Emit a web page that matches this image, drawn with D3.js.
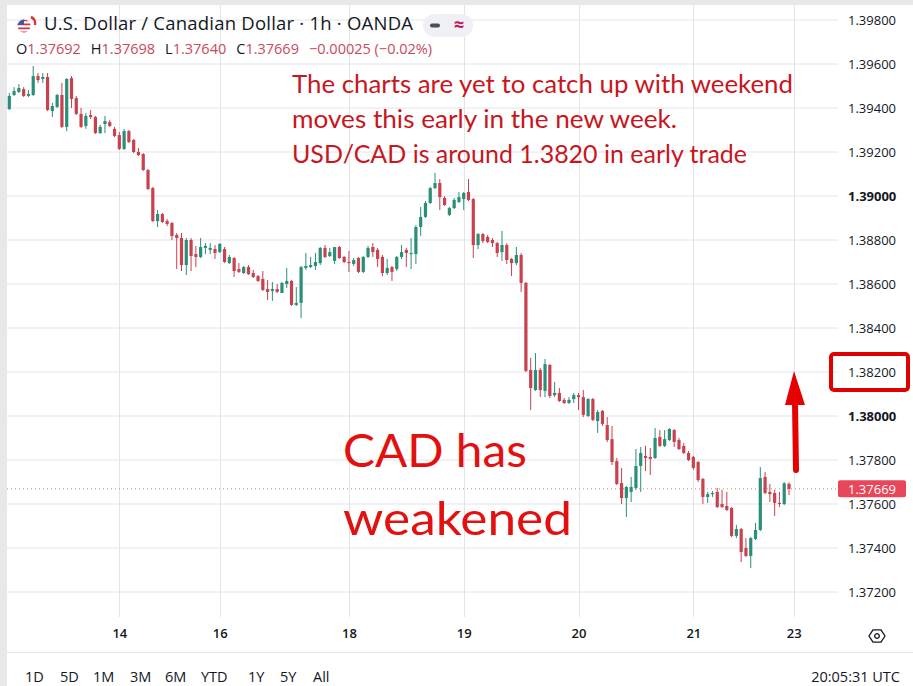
<!DOCTYPE html>
<html>
<head>
<meta charset="utf-8">
<script src="https://cdn.jsdelivr.net/npm/d3@7"></script>
<style>
  body { margin: 0; background: #fff; }
  svg { display: block; }
</style>
</head>
<body>
<div id="chart"></div>
<script>
// USD/CAD 1h candles (oldest first)
var opens = [1.39395,1.39459,1.39473,1.39486,1.39455,1.39459,1.39545,1.39532,1.39541,1.39386,
  1.39405,1.39459,1.39314,1.39536,1.39445,1.39373,1.39318,1.39368,1.39359,1.39286,
  1.39327,1.39336,1.39305,1.39277,1.39214,1.39295,1.39255,1.39200,1.39191,1.39118,
  1.39036,1.38886,1.38918,1.38886,1.38877,1.38823,1.38809,1.38686,1.38800,1.38736,
  1.38723,1.38764,1.38755,1.38759,1.38745,1.38759,1.38695,1.38718,1.38668,1.38650,
  1.38677,1.38650,1.38636,1.38623,1.38577,1.38568,1.38577,1.38559,1.38600,1.38614,
  1.38505,1.38514,1.38673,1.38677,1.38682,1.38695,1.38764,1.38727,1.38705,1.38768,
  1.38723,1.38700,1.38691,1.38718,1.38655,1.38723,1.38768,1.38755,1.38723,1.38650,
  1.38677,1.38668,1.38723,1.38755,1.38736,1.38736,1.38859,1.38905,1.38968,1.39036,
  1.39059,1.38991,1.38914,1.38945,1.38973,1.38986,1.39018,1.38986,1.38777,1.38827,
  1.38814,1.38800,1.38786,1.38745,1.38777,1.38714,1.38695,1.38732,1.38605,1.38209,
  1.38118,1.38209,1.38114,1.38232,1.38095,1.38105,1.38073,1.38059,1.38077,1.38095,
  1.38086,1.38000,1.38077,1.37977,1.38023,1.37959,1.37895,1.37795,1.37695,1.37627,
  1.37655,1.37673,1.37773,1.37818,1.37814,1.37809,1.37905,1.37864,1.37891,1.37936,
  1.37891,1.37864,1.37832,1.37814,1.37791,1.37714,1.37632,1.37645,1.37655,1.37600,
  1.37591,1.37582,1.37455,1.37486,1.37400,1.37364,1.37441,1.37482,1.37723,1.37655,
  1.37650,1.37605,1.37600,1.37692];
var highs = [1.39468,1.39495,1.39509,1.39495,1.39482,1.39591,1.39559,1.39559,1.39559,1.39423,
  1.39464,1.39514,1.39536,1.39545,1.39455,1.39400,1.39377,1.39391,1.39364,1.39323,
  1.39364,1.39345,1.39314,1.39291,1.39305,1.39300,1.39259,1.39218,1.39195,1.39123,
  1.39041,1.38936,1.38923,1.38895,1.38882,1.38832,1.38832,1.38809,1.38809,1.38773,
  1.38809,1.38786,1.38786,1.38777,1.38786,1.38768,1.38732,1.38723,1.38695,1.38682,
  1.38686,1.38664,1.38641,1.38659,1.38618,1.38609,1.38600,1.38609,1.38673,1.38618,
  1.38586,1.38682,1.38741,1.38723,1.38741,1.38768,1.38777,1.38764,1.38768,1.38773,
  1.38727,1.38750,1.38718,1.38723,1.38727,1.38773,1.38786,1.38764,1.38732,1.38714,
  1.38682,1.38727,1.38777,1.38764,1.38809,1.38868,1.38950,1.38977,1.39041,1.39105,
  1.39077,1.39000,1.38950,1.38991,1.39018,1.39018,1.39077,1.38991,1.38832,1.38832,
  1.38823,1.38809,1.38791,1.38841,1.38786,1.38718,1.38768,1.38741,1.38609,1.38264,
  1.38286,1.38218,1.38259,1.38236,1.38155,1.38127,1.38082,1.38086,1.38105,1.38105,
  1.38118,1.38082,1.38082,1.38027,1.38027,1.37995,1.37955,1.37809,1.37764,1.37682,
  1.37723,1.37850,1.37859,1.37864,1.37855,1.37945,1.37936,1.37936,1.37945,1.37941,
  1.37900,1.37877,1.37841,1.37818,1.37795,1.37718,1.37655,1.37659,1.37673,1.37664,
  1.37655,1.37586,1.37505,1.37491,1.37445,1.37450,1.37514,1.37768,1.37745,1.37691,
  1.37664,1.37655,1.37700,1.37698];
var lows = [1.39391,1.39455,1.39468,1.39450,1.39450,1.39455,1.39514,1.39514,1.39386,1.39359,
  1.39400,1.39309,1.39295,1.39400,1.39368,1.39309,1.39305,1.39350,1.39282,1.39282,
  1.39286,1.39314,1.39268,1.39209,1.39209,1.39241,1.39195,1.39182,1.39114,1.39027,
  1.38882,1.38859,1.38877,1.38864,1.38800,1.38668,1.38659,1.38641,1.38659,1.38677,
  1.38718,1.38736,1.38736,1.38714,1.38741,1.38695,1.38691,1.38632,1.38650,1.38645,
  1.38641,1.38627,1.38609,1.38568,1.38527,1.38523,1.38559,1.38559,1.38582,1.38500,
  1.38500,1.38445,1.38664,1.38673,1.38664,1.38686,1.38718,1.38723,1.38691,1.38714,
  1.38695,1.38655,1.38682,1.38650,1.38650,1.38718,1.38723,1.38677,1.38636,1.38641,
  1.38614,1.38659,1.38714,1.38677,1.38668,1.38691,1.38818,1.38900,1.38964,1.39032,
  1.38936,1.38955,1.38909,1.38941,1.38968,1.38936,1.38977,1.38718,1.38759,1.38786,
  1.38786,1.38768,1.38723,1.38705,1.38691,1.38636,1.38686,1.38564,1.38200,1.38027,
  1.38114,1.38086,1.38086,1.38082,1.38086,1.38064,1.38055,1.38055,1.38059,1.38027,
  1.37995,1.37995,1.37977,1.37923,1.37955,1.37882,1.37777,1.37686,1.37600,1.37541,
  1.37609,1.37664,1.37655,1.37750,1.37732,1.37805,1.37859,1.37859,1.37886,1.37859,
  1.37845,1.37827,1.37795,1.37755,1.37700,1.37600,1.37605,1.37632,1.37582,1.37582,
  1.37568,1.37450,1.37445,1.37336,1.37359,1.37309,1.37436,1.37477,1.37645,1.37609,
  1.37545,1.37586,1.37595,1.37640];
var closes = [1.39455,1.39477,1.39491,1.39455,1.39464,1.39545,1.39527,1.39541,1.39391,1.39409,
  1.39459,1.39314,1.39532,1.39441,1.39373,1.39314,1.39364,1.39359,1.39286,1.39314,
  1.39341,1.39318,1.39273,1.39214,1.39295,1.39245,1.39200,1.39186,1.39118,1.39032,
  1.38886,1.38918,1.38882,1.38873,1.38818,1.38809,1.38686,1.38800,1.38727,1.38723,
  1.38768,1.38773,1.38764,1.38741,1.38782,1.38700,1.38723,1.38659,1.38655,1.38677,
  1.38645,1.38632,1.38614,1.38573,1.38564,1.38577,1.38564,1.38605,1.38614,1.38505,
  1.38514,1.38677,1.38682,1.38686,1.38700,1.38764,1.38723,1.38745,1.38768,1.38718,
  1.38700,1.38695,1.38709,1.38655,1.38723,1.38764,1.38745,1.38714,1.38650,1.38673,
  1.38655,1.38723,1.38745,1.38741,1.38741,1.38859,1.38905,1.38968,1.39036,1.39059,
  1.38995,1.38959,1.38945,1.38982,1.38995,1.39014,1.38982,1.38777,1.38827,1.38795,
  1.38791,1.38786,1.38741,1.38777,1.38709,1.38695,1.38732,1.38605,1.38205,1.38127,
  1.38209,1.38118,1.38236,1.38091,1.38105,1.38068,1.38059,1.38073,1.38095,1.38086,
  1.38005,1.38077,1.37982,1.38018,1.37964,1.37891,1.37791,1.37691,1.37627,1.37677,
  1.37677,1.37773,1.37832,1.37809,1.37805,1.37900,1.37864,1.37895,1.37941,1.37882,
  1.37850,1.37832,1.37800,1.37764,1.37709,1.37632,1.37645,1.37650,1.37586,1.37586,
  1.37573,1.37455,1.37486,1.37382,1.37364,1.37445,1.37482,1.37718,1.37650,1.37645,
  1.37605,1.37600,1.37694,1.37669];

// day labels under the time axis and the candle index they sit on
var dayLabels = ["14", "16", "18", "19", "20", "21", "23"];
var dayIndex = [23, 44, 71, 95, 119, 143, 164];

// price ticks on the right scale
var priceTicks = [1.372, 1.374, 1.376, 1.378, 1.380, 1.382, 1.384, 1.386, 1.388, 1.390, 1.392, 1.394, 1.396, 1.398];
var boldTicks = [1.380, 1.390];

var rangeButtons = ["1D", "5D", "1M", "3M", "6M", "YTD", "1Y", "5Y", "All"];
var rangeButtonX = [25, 60, 93, 130, 165, 201, 248, 280, 313];

var lastPrice = 1.37669;
var boxedPrice = 1.382;

var noteLines = ["The charts are yet to catch up with weekend",
                 "moves this early in the new week.",
                 "USD/CAD is around 1.3820 in early trade"];
var bigLines = ["CAD has", "weakened"];

var width = 913, height = 686;
var plotLeft = 7, plotRight = 838, plotTop = 5, plotBottom = 617;
var upColor = "#2a8f78", downColor = "#c9404f", noteRed = "#c8161e", bigRed = "#e31010";
var uiFont = "'Open Sans', 'Noto Sans', sans-serif";

var candles = opens.map(function(o, i) {
  return { i: i, o: o, h: highs[i], l: lows[i], c: closes[i] };
});

var svg = d3.select("#chart").append("svg")
  .attr("width", width)
  .attr("height", height);

// frame: grey strip on the left and top, white card
svg.append("rect").attr("width", width).attr("height", height).attr("fill", "#e8e8eb");
svg.append("rect").attr("x", plotLeft).attr("y", plotTop)
  .attr("width", width - plotLeft).attr("height", height - plotTop).attr("fill", "#fff");

var x = d3.scaleLinear().domain([0, 163]).range([9.3, 789]);
var y = d3.scaleLinear().domain([1.372, 1.398]).range([592, 20]);

// grid
svg.append("g").selectAll("line").data(priceTicks).enter().append("line")
  .attr("x1", plotLeft).attr("x2", plotRight)
  .attr("y1", d => y(d)).attr("y2", d => y(d))
  .attr("stroke", "#e3e4e8").attr("stroke-width", 1);

svg.append("g").selectAll("line").data(dayIndex).enter().append("line")
  .attr("x1", d => Math.round(x(d)) + 0.5).attr("x2", d => Math.round(x(d)) + 0.5)
  .attr("y1", plotTop).attr("y2", plotBottom)
  .attr("stroke", "#e3e4e8").attr("stroke-width", 1);

// last price dotted line
svg.append("line")
  .attr("x1", plotLeft).attr("x2", plotRight)
  .attr("y1", y(lastPrice)).attr("y2", y(lastPrice))
  .attr("stroke", "#c98a92").attr("stroke-width", 1)
  .attr("stroke-dasharray", "1,3");

// candles
var cg = svg.append("g");
cg.selectAll("line.wick").data(candles).enter().append("line")
  .attr("class", "wick")
  .attr("x1", d => x(d.i)).attr("x2", d => x(d.i))
  .attr("y1", d => y(d.h)).attr("y2", d => y(d.l))
  .attr("stroke", d => d.c >= d.o ? upColor : downColor)
  .attr("stroke-width", 1);

cg.selectAll("rect.body").data(candles).enter().append("rect")
  .attr("class", "body")
  .attr("x", d => x(d.i) - 1.6)
  .attr("width", 3.2)
  .attr("y", d => y(Math.max(d.o, d.c)))
  .attr("height", d => Math.max(1, Math.abs(y(d.o) - y(d.c))))
  .attr("fill", d => d.c >= d.o ? upColor : downColor);

// right price scale
var yAxis = d3.axisRight(y).tickValues(priceTicks).tickSize(0).tickPadding(0)
  .tickFormat(d3.format(".5f"));
var yAxisG = svg.append("g").attr("transform", "translate(848,0)").call(yAxis);
yAxisG.select(".domain").remove();
yAxisG.selectAll("text")
  .attr("font-family", uiFont).attr("font-size", 13).attr("fill", "#131722")
  .attr("font-weight", d => boldTicks.some(b => Math.abs(b - d) < 1e-9) ? "bold" : "normal");

// time scale labels
var xAxis = d3.axisBottom(x).tickValues(dayIndex).tickSize(0).tickPadding(0)
  .tickFormat((d, i) => dayLabels[i]);
var xAxisG = svg.append("g").attr("transform", "translate(0,629)").call(xAxis);
xAxisG.select(".domain").remove();
xAxisG.selectAll("text")
  .attr("font-family", uiFont).attr("font-size", 13).attr("font-weight", 600).attr("fill", "#131722");

// settings icon on the axis corner
var gear = svg.append("g").attr("transform", "translate(877,636)");
gear.append("path")
  .attr("d", d3.range(6).map(function(k, j) {
    var a = Math.PI / 3 * k;
    return (j ? "L" : "M") + (8 * Math.cos(a)).toFixed(2) + "," + (7 * Math.sin(a)).toFixed(2);
  }).join("") + "Z")
  .attr("fill", "none").attr("stroke", "#131722").attr("stroke-width", 1.3);
gear.append("circle").attr("r", 2.3).attr("fill", "none").attr("stroke", "#131722").attr("stroke-width", 1.3);

// bottom toolbar
svg.append("line").attr("x1", plotLeft).attr("x2", width).attr("y1", 652.5).attr("y2", 652.5)
  .attr("stroke", "#e3e4e8");
svg.append("g").selectAll("text").data(rangeButtons).enter().append("text")
  .attr("x", (d, i) => rangeButtonX[i]).attr("y", 678)
  .attr("dominant-baseline", "middle")
  .attr("font-family", uiFont).attr("font-size", 14.5).attr("fill", "#131722")
  .text(d => d);
svg.append("text").attr("x", 900).attr("y", 678).attr("text-anchor", "end")
  .attr("dominant-baseline", "middle")
  .attr("font-family", uiFont).attr("font-size", 14.5).attr("fill", "#131722")
  .text("20:05:31 UTC");

// last price tag
svg.append("rect").attr("x", 838).attr("y", y(lastPrice) - 8.5).attr("width", 68).attr("height", 17)
  .attr("rx", 2).attr("fill", "#e8475a");
svg.append("text").attr("x", 848).attr("y", y(lastPrice))
  .attr("dominant-baseline", "central")
  .attr("font-family", uiFont).attr("font-size", 13).attr("fill", "#fff")
  .text(d3.format(".5f")(lastPrice));

// header
var head = svg.append("g");
var flag = head.append("g").attr("transform", "translate(24,26)");
flag.append("clipPath").attr("id", "flagClip").append("circle").attr("r", 6.5);
var fg = flag.append("g").attr("clip-path", "url(#flagClip)");
d3.range(7).forEach(function(k) {
  fg.append("rect").attr("x", -7).attr("y", -6.5 + k * 2).attr("width", 14).attr("height", 2)
    .attr("fill", k % 2 ? "#fff" : "#d8303d");
});
fg.append("rect").attr("x", -7).attr("y", -7).attr("width", 7).attr("height", 6).attr("fill", "#3d5aa8");
flag.append("path").attr("d", "M7,-9 A7,7 0 0 1 11,-1").attr("fill", "none")
  .attr("stroke", "#d8303d").attr("stroke-width", 2.5);

head.append("text").attr("x", 44).attr("y", 25)
  .attr("dominant-baseline", "middle")
  .attr("font-family", uiFont).attr("font-size", 18.5).attr("fill", "#131722")
  .attr("textLength", 369).attr("lengthAdjust", "spacing")
  .text("U.S. Dollar / Canadian Dollar · 1h · OANDA");

head.append("rect").attr("x", 423).attr("y", 14).attr("width", 50).attr("height", 23).attr("rx", 11.5)
  .attr("fill", "#eef0f4");
head.append("rect").attr("x", 430).attr("y", 23.5).attr("width", 10).attr("height", 4).attr("rx", 2)
  .attr("fill", "#4a4e5a");
head.append("text").attr("x", 459).attr("y", 26).attr("text-anchor", "middle")
  .attr("dominant-baseline", "middle")
  .attr("font-family", uiFont).attr("font-size", 18).attr("font-weight", "bold").attr("fill", "#c2185b")
  .text("≈");

var ohlc = head.append("text").attr("x", 16).attr("y", 50)
  .attr("dominant-baseline", "middle")
  .attr("font-family", uiFont).attr("font-size", 14.5).attr("fill", "#131722");
var fmt = d3.format(".5f");
var n = opens.length - 1;
[["O", opens[n]], ["H", highs[n]], ["L", lows[n]], ["C", closes[n]]].forEach(function(p, k) {
  ohlc.append("tspan").attr("dx", k ? 10 : 0).text(p[0]);
  ohlc.append("tspan").attr("fill", "#c94a5c").text(fmt(p[1]));
});
var chg = closes[n] - closes[n - 1];
ohlc.append("tspan").attr("dx", 10).attr("fill", "#c94a5c")
  .text("−" + fmt(Math.abs(chg)) + " (−" + d3.format(".2f")(Math.abs(chg) / closes[n - 1] * 100) + "%)");

// annotations
var noteWidths = [501, 385, 455];
svg.append("g").selectAll("text").data(noteLines).enter().append("text")
  .attr("x", 292).attr("y", (d, i) => 93 + i * 35)
  .attr("font-family", "Lato, 'Open Sans', sans-serif").attr("font-size", 25).attr("fill", noteRed)
  .attr("textLength", (d, i) => noteWidths[i]).attr("lengthAdjust", "spacingAndGlyphs")
  .text(d => d);

var bigWidths = [184, 229];
svg.append("g").selectAll("text").data(bigLines).enter().append("text")
  .attr("x", 343).attr("y", (d, i) => 467 + i * 68)
  .attr("font-family", "Lato, 'Open Sans', sans-serif").attr("font-size", 47).attr("fill", bigRed)
  .attr("textLength", (d, i) => bigWidths[i]).attr("lengthAdjust", "spacingAndGlyphs")
  .text(d => d);

// red box around the 1.38200 level
svg.append("rect").attr("x", 831).attr("y", y(boxedPrice) - 18).attr("width", 77).attr("height", 36)
  .attr("rx", 3).attr("fill", "none").attr("stroke", "#e00000").attr("stroke-width", 4);

// arrow pointing up
svg.append("line").attr("x1", 796).attr("x2", 795).attr("y1", 470).attr("y2", 402)
  .attr("stroke", "#e60000").attr("stroke-width", 6).attr("stroke-linecap", "round");
svg.append("path").attr("d", "M785,405 L794,371 L805,405 Z").attr("fill", "#e60000");
</script>
</body>
</html>
